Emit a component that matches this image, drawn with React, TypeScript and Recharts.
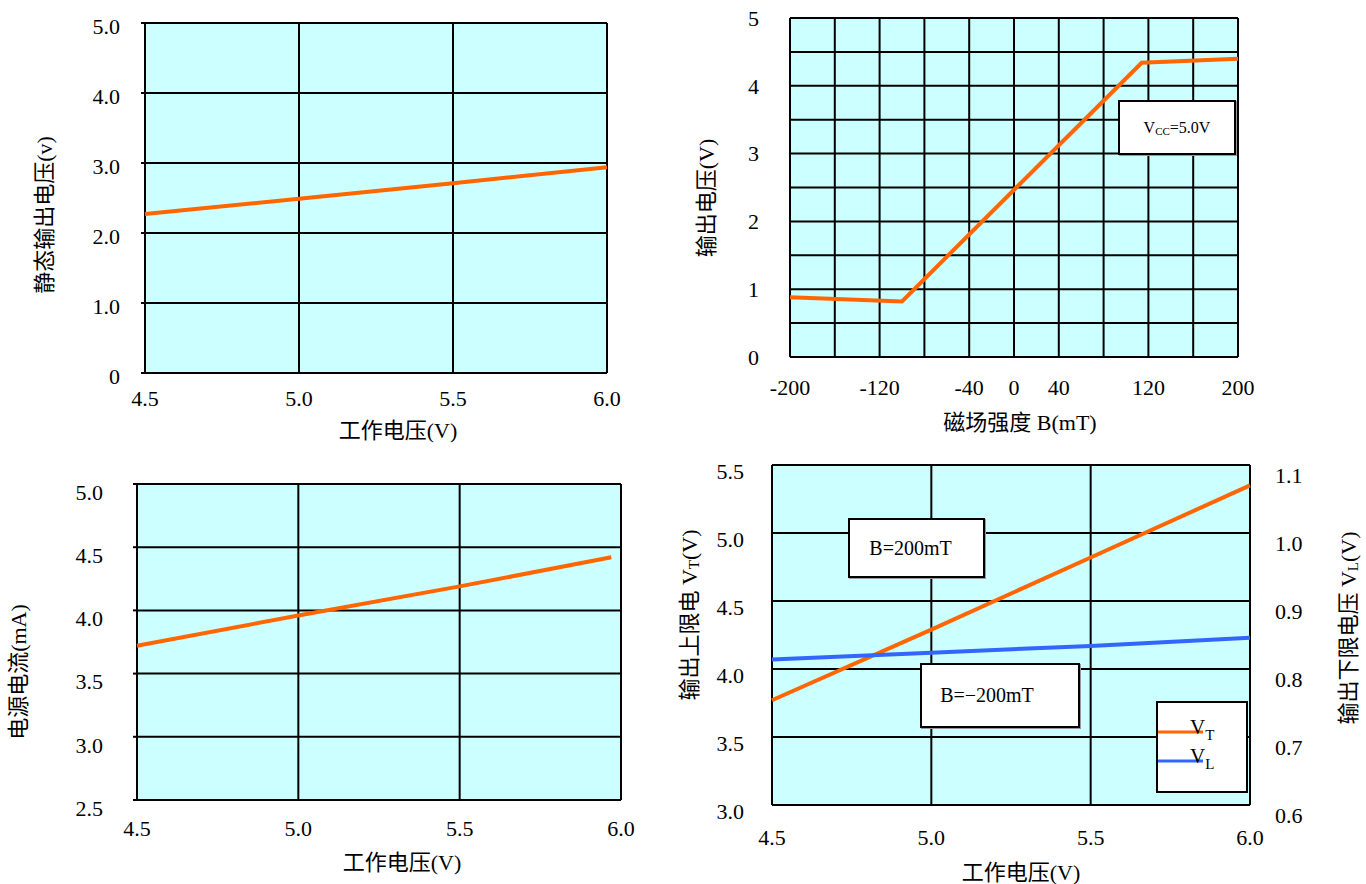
import React from 'react';
import { LineChart, Line, XAxis, YAxis, CartesianGrid, Legend } from 'recharts';

const SERIF = '"Liberation Serif", "Times New Roman", "Noto Sans CJK SC", serif';
const CYAN = '#CCFFFF';
const ORANGE = '#FF6600';
const BLUE = '#3366FF';

// 静态输出电压 vs 工作电压
const quiescentVcc = [4.5, 5.0, 5.5, 6.0];
const quiescentOut = [2.27, 2.49, 2.71, 2.94];
const quiescentYTicks = [0, 1, 2, 3, 4, 5];

// 输出电压 vs 磁场强度
const fieldB = [-200, -100, 114, 200];
const fieldOut = [0.88, 0.82, 4.34, 4.4];
const fieldXTicks = [-200, -120, -40, 0, 40, 120, 200];
const fieldXGrid = [-200, -160, -120, -80, -40, 0, 40, 80, 120, 160, 200];
const fieldYTicks = [0, 1, 2, 3, 4, 5];
const fieldYGrid = [0, 0.5, 1, 1.5, 2, 2.5, 3, 3.5, 4, 4.5, 5];

// 电源电流 vs 工作电压
const supplyVcc = [4.5, 5.0, 5.5, 5.97];
const supplyCurrent = [3.72, 3.96, 4.19, 4.42];
const supplyYTicks = [2.5, 3.0, 3.5, 4.0, 4.5, 5.0];

// 输出上限 / 下限电压 vs 工作电压
const limitVcc = [4.5, 5.0, 5.5, 6.0];
const limitHigh = [3.77, 4.29, 4.82, 5.35];
const limitLow = [0.814, 0.824, 0.834, 0.846];
const highTicks = [3.0, 3.5, 4.0, 4.5, 5.0, 5.5];
const lowTicks = [0.6, 0.7, 0.8, 0.9, 1.0, 1.1];
const limitOrder = ['VT', 'VL'];

const vccTicks = [4.5, 5.0, 5.5, 6.0];

const quiescentRows = quiescentVcc.map((v, i) => ({ vcc: v, out: quiescentOut[i] }));
const fieldRows = fieldB.map((b, i) => ({ b, out: fieldOut[i] }));
const supplyRows = supplyVcc.map((v, i) => ({ vcc: v, ma: supplyCurrent[i] }));
const limitRows = limitVcc.map((v, i) => ({ vcc: v, vt: limitHigh[i], vl: limitLow[i] }));

const tickStyle = { fontSize: 22, fill: '#000', fontFamily: SERIF };
const fix1 = (v: number) => v.toFixed(1);

function Title({ px, py, vertical, children }: { px: number; py: number; vertical?: boolean; children: React.ReactNode }) {
  return (
    <text
      x={px}
      y={py}
      textAnchor="middle"
      dominantBaseline="central"
      fontSize={22}
      fontFamily={SERIF}
      fill="#000"
      transform={vertical ? `rotate(-90 ${px} ${py})` : undefined}
    >
      {children}
    </text>
  );
}

function NoteBox({ left, top, width, height, fontSize, padRight = 0, children }: any) {
  return (
    <div
      style={{
        position: 'absolute', left, top, width, height, boxSizing: 'border-box',
        border: '2px solid #000', background: '#fff', boxShadow: '1px 1px 0 #999',
        display: 'flex', alignItems: 'center', justifyContent: 'center',
        paddingRight: padRight, fontFamily: SERIF, fontSize, color: '#000',
      }}
    >
      {children}
    </div>
  );
}

function LimitLegend({ payload }: any) {
  const items = [...(payload || [])].sort(
    (a: any, b: any) => limitOrder.indexOf(String(a.value)) - limitOrder.indexOf(String(b.value)),
  );
  return (
    <div style={{ width: 92, height: 92, boxSizing: 'border-box', border: '2px solid #000', background: '#fff' }}>
      <svg width={88} height={88} style={{ display: 'block' }}>
        {items.map((p: any, i: number) => {
          const y = 29 + i * 29;
          const name = String(p.value);
          return (
            <g key={name}>
              <line x1={0} x2={45} y1={y} y2={y} stroke={p.color} strokeWidth={3} />
              <text x={32} y={y + 2} fontSize={21} fontFamily={SERIF} fill="#000">
                {name[0]}
                <tspan fontSize={15} dy={6}>{name.slice(1)}</tspan>
              </text>
            </g>
          );
        })}
      </svg>
    </div>
  );
}

export default function App() {
  return (
    <div style={{ position: 'absolute', left: 0, top: 0, width: 1366, height: 884, background: '#fff', fontFamily: SERIF }}>
      {/* 静态输出电压 */}
      <div style={{ position: 'absolute', left: 0, top: 0 }}>
        <LineChart width={640} height={450} data={quiescentRows} margin={{ top: 23, right: 33, bottom: 0, left: 0 }}>
          <CartesianGrid fill={CYAN} fillOpacity={1} stroke="#000" strokeWidth={2} />
          <XAxis
            dataKey="vcc" type="number" domain={[4.5, 6]} ticks={vccTicks} height={77}
            axisLine={false} tickLine={false} tickSize={0} tickMargin={17} tick={tickStyle} tickFormatter={fix1}
            label={<Title px={398} py={430}>工作电压(V)</Title>}
          />
          <YAxis
            type="number" domain={[0, 5]} ticks={quiescentYTicks} width={145}
            axisLine={false} tickLine={{ stroke: '#000', strokeWidth: 2 }} tickSize={4} tickMargin={21}
            tick={{ ...tickStyle, dy: 3 }} tickFormatter={(v: number) => (v === 0 ? '0' : v.toFixed(1))}
            label={<Title px={44} py={215} vertical>静态输出电压(v)</Title>}
          />
          <Line type="linear" dataKey="out" stroke={ORANGE} strokeWidth={4} dot={false} isAnimationActive={false} />
        </LineChart>
      </div>

      {/* 输出电压 vs 磁场强度 */}
      <div style={{ position: 'absolute', left: 683, top: 0 }}>
        <LineChart width={590} height={450} data={fieldRows} margin={{ top: 18, right: 35, bottom: 0, left: 0 }}>
          <CartesianGrid
            fill={CYAN} fillOpacity={1} stroke="#000" strokeWidth={2}
            verticalValues={fieldXGrid} horizontalValues={fieldYGrid}
          />
          <XAxis
            dataKey="b" type="number" domain={[-200, 200]} ticks={fieldXTicks} height={93}
            axisLine={false} tickLine={false} tickSize={0} tickMargin={22} tick={tickStyle}
            label={<Title px={337} py={422}>磁场强度 B(mT)</Title>}
          />
          <YAxis
            type="number" domain={[0, 5]} ticks={fieldYTicks} width={107}
            axisLine={false} tickLine={false} tickSize={0} tickMargin={31} tick={tickStyle}
            label={<Title px={23} py={198} vertical>输出电压(V)</Title>}
          />
          <Line type="linear" dataKey="out" stroke={ORANGE} strokeWidth={4} dot={false} isAnimationActive={false} />
        </LineChart>
      </div>
      <NoteBox left={1118} top={100} width={118} height={55} fontSize={16}>
        <span>V<sub style={{ fontSize: 11, verticalAlign: -2 }}>CC</sub>=5.0V</span>
      </NoteBox>

      {/* 电源电流 */}
      <div style={{ position: 'absolute', left: 0, top: 442 }}>
        <LineChart width={660} height={442} data={supplyRows} margin={{ top: 42, right: 39, bottom: 0, left: 0 }}>
          <CartesianGrid fill={CYAN} fillOpacity={1} stroke="#000" strokeWidth={2} />
          <XAxis
            dataKey="vcc" type="number" domain={[4.5, 6]} ticks={vccTicks} height={84}
            axisLine={false} tickLine={false} tickSize={0} tickMargin={20} tick={tickStyle} tickFormatter={fix1}
            label={<Title px={402} py={420}>工作电压(V)</Title>}
          />
          <YAxis
            type="number" domain={[2.5, 5]} ticks={supplyYTicks} width={137}
            axisLine={false} tickLine={{ stroke: '#000', strokeWidth: 2 }} tickSize={4} tickMargin={30}
            tick={{ ...tickStyle, dy: 8 }} tickFormatter={fix1}
            label={<Title px={18} py={230} vertical>电源电流(mA)</Title>}
          />
          <Line type="linear" dataKey="ma" stroke={ORANGE} strokeWidth={4} dot={false} isAnimationActive={false} />
        </LineChart>
      </div>

      {/* 输出上限 / 下限电压 */}
      <div style={{ position: 'absolute', left: 663, top: 442 }}>
        <LineChart width={703} height={442} data={limitRows} margin={{ top: 23, right: 0, bottom: 0, left: 0 }}>
          <CartesianGrid yAxisId="left" fill={CYAN} fillOpacity={1} stroke="#000" strokeWidth={2} />
          <XAxis
            dataKey="vcc" type="number" domain={[4.5, 6]} ticks={vccTicks} height={79}
            axisLine={false} tickLine={false} tickSize={0} tickMargin={24} tick={tickStyle} tickFormatter={fix1}
            label={<Title px={358} py={430}>工作电压(V)</Title>}
          />
          <YAxis
            yAxisId="left" type="number" domain={[3, 5.5]} ticks={highTicks} width={109}
            axisLine={false} tickLine={false} tickSize={0} tickMargin={28}
            tick={{ ...tickStyle, dy: 6 }} tickFormatter={fix1}
            label={
              <Title px={26} py={173} vertical>
                输出上限电 V<tspan fontSize={15} dy={5}>T</tspan><tspan dy={-5}>(V)</tspan>
              </Title>
            }
          />
          <YAxis
            yAxisId="right" orientation="right" type="number" domain={[0.6, 1.1]} ticks={lowTicks} width={116}
            axisLine={false} tickLine={false} tickSize={0} tickMargin={25}
            tick={{ ...tickStyle, dy: 10 }} tickFormatter={fix1}
            label={
              <Title px={685} py={186} vertical>
                输出下限电压 V<tspan fontSize={15} dy={5}>L</tspan><tspan dy={-5}>(V)</tspan>
              </Title>
            }
          />
          <Legend
            layout="vertical" align="center" verticalAlign="middle"
            wrapperStyle={{ left: 493, top: 259, width: 92, height: 92 }}
            content={LimitLegend}
          />
          <Line yAxisId="left" type="linear" dataKey="vt" name="VT" stroke={ORANGE} strokeWidth={4} dot={false} isAnimationActive={false} />
          <Line yAxisId="right" type="linear" dataKey="vl" name="VL" stroke={BLUE} strokeWidth={4} dot={false} isAnimationActive={false} />
        </LineChart>
      </div>
      <NoteBox left={848} top={518} width={137} height={60} fontSize={20} padRight={12}>B=200mT</NoteBox>
      <NoteBox left={920} top={663} width={160} height={65} fontSize={20} padRight={26}>B=−200mT</NoteBox>
    </div>
  );
}
